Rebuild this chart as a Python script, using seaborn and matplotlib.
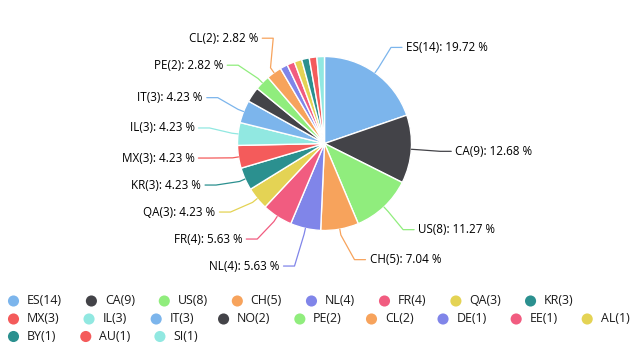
import numpy as np
import matplotlib
matplotlib.use('Agg')
import matplotlib.pyplot as plt
import seaborn as sns

countries = ['ES', 'CA', 'US', 'CH', 'NL', 'FR', 'QA', 'KR', 'MX', 'IL',
             'IT', 'NO', 'PE', 'CL', 'DE', 'EE', 'AL', 'BY', 'AU', 'SI']
counts = [14, 9, 8, 5, 4, 4, 3, 3, 3, 3, 3, 2, 2, 2, 1, 1, 1, 1, 1, 1]
# labels that the chart actually shows next to the pie
labelled = ['ES', 'CA', 'US', 'CH', 'NL', 'FR', 'QA', 'KR', 'MX', 'IL', 'IT', 'PE', 'CL']

hc_colors = ['#7cb5ec', '#434348', '#90ed7d', '#f7a35c', '#8085e9',
             '#f15c80', '#e4d354', '#2b908f', '#f45b5b', '#91e8e1']

sns.set_theme(style='white')
plt.rcParams['font.family'] = ['Open Sans', 'DejaVu Sans']

pal = sns.color_palette(hc_colors)
colors = [pal[i % len(pal)] for i in range(len(counts))]
total = sum(counts)

fig = plt.figure(figsize=(6.4, 3.6), dpi=100)
ax = fig.add_axes([0, 0, 1, 1])

cx, cy, r = 324.5, 143.5, 87
R = 118  # circle the labels sit on

wedges, _ = ax.pie(counts, colors=colors, center=(cx, cy), radius=r,
                   startangle=-90, counterclock=True, frame=True,
                   wedgeprops=dict(edgecolor='white', linewidth=1))
ax.set_xlim(0, 640)
ax.set_ylim(360, 0)
ax.set_aspect('equal')
ax.axis('off')


def spread(ys, gap):
    ys = list(ys)
    for _ in range(300):
        for i in range(len(ys) - 1):
            d = ys[i + 1] - ys[i]
            if d < gap:
                s = (gap - d) / 2
                ys[i] -= s
                ys[i + 1] += s
    return ys


# data labels
info = []
for w, name, n, col in zip(wedges, countries, counts, colors):
    if name not in labelled:
        continue
    th = np.deg2rad((w.theta1 + w.theta2) / 2)
    side = 1 if np.cos(th) > 0 else -1
    info.append(dict(name=name, n=n, col=col, th=th, side=side,
                     y=cy + R * np.sin(th)))

for side in (1, -1):
    items = sorted([d for d in info if d['side'] == side], key=lambda d: d['y'])
    ys = spread([d['y'] for d in items], 27)
    shift = 0 if side > 0 else -2.5
    for d, y in zip(items, ys):
        d['ly'] = y + shift

for d in info:
    side, th, ly = d['side'], d['th'], d['ly']
    dy = ly - cy
    lx = cx + side * np.sqrt(max(R ** 2 - dy ** 2, 32.0 ** 2))
    ex, ey = cx + r * np.cos(th), cy + r * np.sin(th)
    ox, oy = cx + (r + 6) * np.cos(th), cy + (r + 6) * np.sin(th)
    ax.plot([ex, ox, lx - side * 2, lx + side * 9],
            [ey, oy, ly, ly], color=d['col'], lw=0.9, solid_capstyle='round')
    ax.text(lx + side * 13, ly, f"{d['name']}({d['n']}): {d['n'] / total * 100:.2f} %",
            ha='left' if side > 0 else 'right', va='center',
            fontsize=8.4, color='#000000')

# legend laid out item by item, wrapping like the original
renderer = fig.canvas.get_renderer()
row_y = [301, 319, 336.5]
row = 0
x = 13.5
for name, n, col in zip(countries, counts, colors):
    t = ax.text(0, 0, f"{name}({n})", fontsize=8.9, color='#1a1a1a', va='center')
    bb = t.get_window_extent(renderer=renderer)
    if x + 13.4 + bb.width > 645:
        row += 1
        x = 13.5
    t.set_position((x + 13.4, row_y[row]))
    ax.scatter([x], [row_y[row]], s=64, color=col, edgecolor='none')
    x = x + 13.4 + bb.width + 29.5

fig.savefig('out.png', dpi=100)
